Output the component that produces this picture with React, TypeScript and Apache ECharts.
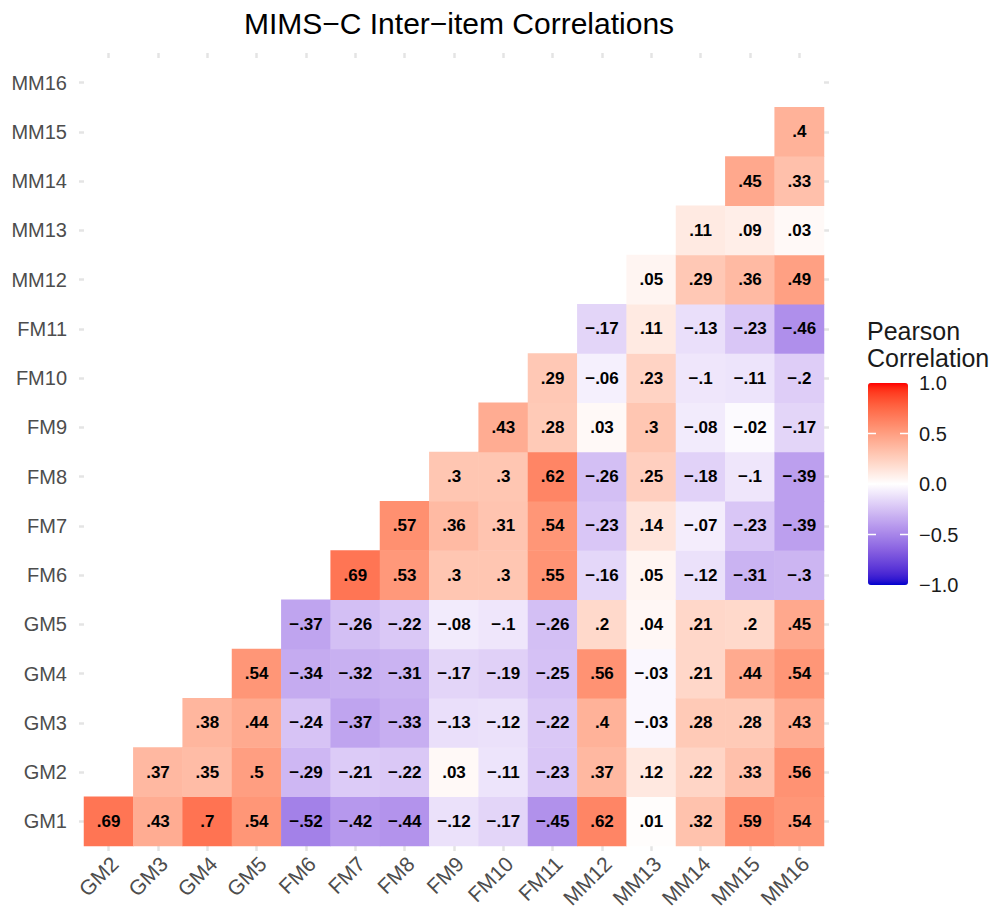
import React, { useEffect, useRef } from "react";
import * as echarts from "echarts";

const xCategories = ["GM2", "GM3", "GM4", "GM5", "FM6", "FM7", "FM8", "FM9", "FM10", "FM11", "MM12", "MM13", "MM14", "MM15", "MM16"];
const yCategories = ["GM1", "GM2", "GM3", "GM4", "GM5", "FM6", "FM7", "FM8", "FM9", "FM10", "FM11", "MM12", "MM13", "MM14", "MM15", "MM16"];

// each column lists correlations from GM1 upward
const corrGM2 = [0.69];
const corrGM3 = [0.43, 0.37];
const corrGM4 = [0.7, 0.35, 0.38];
const corrGM5 = [0.54, 0.5, 0.44, 0.54];
const corrFM6 = [-0.52, -0.29, -0.24, -0.34, -0.37];
const corrFM7 = [-0.42, -0.21, -0.37, -0.32, -0.26, 0.69];
const corrFM8 = [-0.44, -0.22, -0.33, -0.31, -0.22, 0.53, 0.57];
const corrFM9 = [-0.12, 0.03, -0.13, -0.17, -0.08, 0.3, 0.36, 0.3];
const corrFM10 = [-0.17, -0.11, -0.12, -0.19, -0.1, 0.3, 0.31, 0.3, 0.43];
const corrFM11 = [-0.45, -0.23, -0.22, -0.25, -0.26, 0.55, 0.54, 0.62, 0.28, 0.29];
const corrMM12 = [0.62, 0.37, 0.4, 0.56, 0.2, -0.16, -0.23, -0.26, 0.03, -0.06, -0.17];
const corrMM13 = [0.01, 0.12, -0.03, -0.03, 0.04, 0.05, 0.14, 0.25, 0.3, 0.23, 0.11, 0.05];
const corrMM14 = [0.32, 0.22, 0.28, 0.21, 0.21, -0.12, -0.07, -0.18, -0.08, -0.1, -0.13, 0.29, 0.11];
const corrMM15 = [0.59, 0.33, 0.28, 0.44, 0.2, -0.31, -0.23, -0.1, -0.02, -0.11, -0.23, 0.36, 0.09, 0.45];
const corrMM16 = [0.54, 0.56, 0.43, 0.54, 0.45, -0.3, -0.39, -0.39, -0.17, -0.2, -0.46, 0.49, 0.03, 0.33, 0.4];

const columns = [corrGM2, corrGM3, corrGM4, corrGM5, corrFM6, corrFM7, corrFM8, corrFM9, corrFM10, corrFM11, corrMM12, corrMM13, corrMM14, corrMM15, corrMM16];

const legendBreaks = [1, 0.5, 0, -0.5, -1];
const legendLabels = ["1.0", "0.5", "0.0", "\u22120.5", "\u22121.0"];

const titleText = "MIMS\u2212C Inter\u2212item Correlations";
const legendTitle = "Pearson\nCorrelation";

const FONT = "'Liberation Sans', Arial, Helvetica, sans-serif";

// --- Lab interpolation (like ggplot's scale_fill_gradient2) ---
function toLin(c: number) {
  c /= 255;
  return c <= 0.04045 ? c / 12.92 : Math.pow((c + 0.055) / 1.055, 2.4);
}
function fromLin(c: number) {
  const v = c <= 0.0031308 ? 12.92 * c : 1.055 * Math.pow(c, 1 / 2.4) - 0.055;
  return Math.max(0, Math.min(255, Math.round(v * 255)));
}
const Xn = 0.95047, Yn = 1.0, Zn = 1.08883;
function rgbToLab(r: number, g: number, b: number) {
  const R = toLin(r), G = toLin(g), B = toLin(b);
  const X = 0.4124564 * R + 0.3575761 * G + 0.1804375 * B;
  const Y = 0.2126729 * R + 0.7151522 * G + 0.072175 * B;
  const Z = 0.0193339 * R + 0.119192 * G + 0.9503041 * B;
  const f = (t: number) => (t > 0.008856 ? Math.cbrt(t) : 7.787 * t + 16 / 116);
  const fx = f(X / Xn), fy = f(Y / Yn), fz = f(Z / Zn);
  return [116 * fy - 16, 500 * (fx - fy), 200 * (fy - fz)];
}
function labToHex(L: number, a: number, b: number) {
  const fy = (L + 16) / 116;
  const fx = fy + a / 500;
  const fz = fy - b / 200;
  const inv = (t: number) => (t * t * t > 0.008856 ? t * t * t : (t - 16 / 116) / 7.787);
  const X = Xn * inv(fx), Y = Yn * inv(fy), Z = Zn * inv(fz);
  const r = 3.2404542 * X - 1.5371385 * Y - 0.4985314 * Z;
  const g = -0.969266 * X + 1.8760108 * Y + 0.041556 * Z;
  const bb = 0.0556434 * X - 0.2040259 * Y + 1.0572252 * Z;
  const h = (v: number) => fromLin(v).toString(16).padStart(2, "0");
  return "#" + h(r) + h(g) + h(bb);
}
function gradientStops(n: number) {
  const low = rgbToLab(0, 0, 205);
  const mid = rgbToLab(255, 255, 255);
  const high = rgbToLab(255, 0, 0);
  const out: string[] = [];
  for (let i = 0; i < n; i++) {
    const v = -1 + (2 * i) / (n - 1);
    const t = Math.abs(v);
    const end = v < 0 ? low : high;
    out.push(labToHex(mid[0] + (end[0] - mid[0]) * t, mid[1] + (end[1] - mid[1]) * t, mid[2] + (end[2] - mid[2]) * t));
  }
  return out;
}

function fmt(v: number) {
  const s = String(Math.abs(v)).replace(/^0/, "");
  return (v < 0 ? "\u2212" : "") + s;
}

const GRID_LEFT = 84;
const GRID_TOP = 58;
const GRID_W = 740;
const GRID_H = 788;
const BAR_LEFT = 868;
const BAR_TOP = 383;
const BAR_W = 40;
const BAR_H = 202;

export default function App() {
  const ref = useRef<HTMLDivElement>(null);
  useEffect(() => {
    if (!ref.current) return;
    const chart = echarts.init(ref.current, null, { renderer: "svg" });
    const data: any[] = [];
    columns.forEach((col, xi) => {
      col.forEach((v, yi) => data.push([xi, yi, v]));
    });
    const stub = { show: true, alignWithLabel: true, interval: 0, length: 5, lineStyle: { color: "#E4E4E4", width: 2.5 } };
    const legendGraphics: any[] = [];
    legendBreaks.forEach((b, i) => {
      const y = BAR_TOP + ((1 - b) / 2) * BAR_H;
      legendGraphics.push({
        type: "text",
        x: 919,
        y,
        style: { text: legendLabels[i], fontSize: 20, fontFamily: FONT, fill: "#1A1A1A", textAlign: "left", textVerticalAlign: "middle" },
        z: 10,
      });
      if (b !== 1 && b !== -1) {
        legendGraphics.push({ type: "line", shape: { x1: BAR_LEFT, y1: y, x2: BAR_LEFT + 8, y2: y }, style: { stroke: "#FFFFFF", lineWidth: 1.5 }, z: 10 });
        legendGraphics.push({ type: "line", shape: { x1: BAR_LEFT + BAR_W - 8, y1: y, x2: BAR_LEFT + BAR_W, y2: y }, style: { stroke: "#FFFFFF", lineWidth: 1.5 }, z: 10 });
      }
    });
    legendGraphics.push({
      type: "text",
      x: 867,
      y: 317,
      style: { text: legendTitle, fontSize: 25, lineHeight: 27, fontFamily: FONT, fill: "#1A1A1A", textAlign: "left", textVerticalAlign: "top" },
    });

    chart.setOption({
      animation: false,
      backgroundColor: "#FFFFFF",
      title: {
        text: titleText,
        left: 454,
        top: 3,
        textAlign: "center",
        textStyle: { fontSize: 30, fontWeight: "normal", color: "#000000", fontFamily: FONT },
      },
      grid: [
        { left: GRID_LEFT, top: GRID_TOP, width: GRID_W, height: GRID_H },
        { left: GRID_LEFT + 6, top: GRID_TOP, width: GRID_W, height: GRID_H },
      ],
      xAxis: [
        { type: "category", gridIndex: 0, data: xCategories, position: "bottom", axisLine: { show: false }, axisTick: stub, axisLabel: { show: false }, splitLine: { show: false } },
        { type: "category", gridIndex: 0, data: xCategories, position: "top", axisLine: { show: false }, axisTick: stub, axisLabel: { show: false }, splitLine: { show: false } },
        {
          type: "category",
          gridIndex: 1,
          data: xCategories,
          position: "bottom",
          axisLine: { show: false },
          axisTick: { show: false },
          splitLine: { show: false },
          axisLabel: { interval: 0, rotate: 45, margin: 30, fontSize: 21, color: "#4D4D4D", fontFamily: FONT },
        },
      ],
      yAxis: [
        {
          type: "category",
          gridIndex: 0,
          data: yCategories,
          position: "left",
          axisLine: { show: false },
          axisTick: stub,
          splitLine: { show: false },
          axisLabel: { interval: 0, margin: 17, fontSize: 20, color: "#4D4D4D", fontFamily: FONT },
        },
        { type: "category", gridIndex: 0, data: yCategories, position: "right", axisLine: { show: false }, axisTick: stub, axisLabel: { show: false }, splitLine: { show: false } },
        { type: "category", gridIndex: 1, data: yCategories, show: false },
      ],
      visualMap: {
        type: "continuous",
        min: -1,
        max: 1,
        calculable: false,
        orient: "vertical",
        left: BAR_LEFT,
        top: BAR_TOP,
        itemWidth: BAR_W,
        itemHeight: BAR_H,
        padding: 0,
        seriesIndex: 0,
        inRange: { color: gradientStops(41) },
        hoverLink: false,
      },
      graphic: legendGraphics,
      series: [
        {
          type: "heatmap",
          xAxisIndex: 0,
          yAxisIndex: 0,
          data,
          label: {
            show: true,
            formatter: (p: any) => fmt(p.value[2]),
            fontSize: 17,
            fontWeight: "bold",
            color: "#000000",
            fontFamily: FONT,
          },
          itemStyle: { borderWidth: 0 },
          emphasis: { disabled: true },
        },
      ],
    });
    return () => chart.dispose();
  }, []);
  return <div ref={ref} style={{ position: "fixed", left: 0, top: 0, width: 995, height: 911 }} />;
}
